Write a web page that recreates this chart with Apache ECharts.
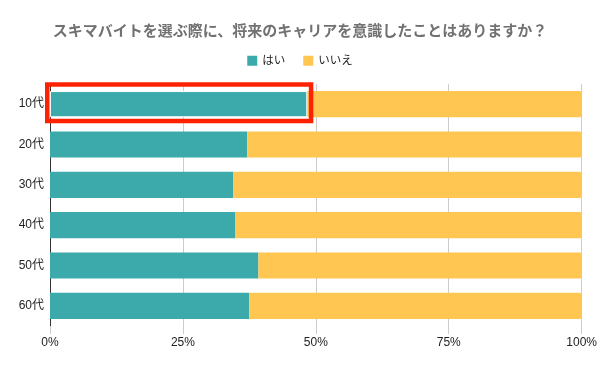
<!DOCTYPE html>
<html>
<head>
<meta charset="utf-8">
<script src="https://cdn.jsdelivr.net/npm/echarts@6/dist/echarts.min.js"></script>
<style>
html,body{margin:0;padding:0;background:#fff;}
#c{width:600px;height:371px;}
</style>
</head>
<body>
<div id="c"></div>
<script>
var titleText = 'スキマバイトを選ぶ際に、将来のキャリアを意識したことはありますか？';
var categories = ['10代', '20代', '30代', '40代', '50代', '60代'];
var seriesNames = ['はい', 'いいえ'];
var yesValues = [48.4, 37.1, 34.5, 34.8, 39.2, 37.5];
var noValues = [51.6, 62.9, 65.5, 65.2, 60.8, 62.5];
var xTicks = [0, 25, 50, 75, 100];
var highlightIndex = 0;

var FONT = '"Liberation Sans", "Noto Sans CJK JP", sans-serif';
var chart = echarts.init(document.getElementById('c'), null, {renderer: 'canvas'});

var yesData = yesValues.map(function (v, i) {
  if (i === highlightIndex) {
    return {value: v, itemStyle: {borderColor: '#ffffff', borderWidth: 1}};
  }
  return v;
});

chart.setOption({
  animation: false,
  backgroundColor: '#ffffff',
  title: {
    text: titleText,
    left: 'center',
    top: 18,
    textStyle: {
      fontFamily: '"Noto Sans CJK JP", sans-serif',
      fontSize: 15,
      fontWeight: 'bold',
      color: '#717171'
    }
  },
  legend: {
    data: seriesNames,
    top: 50,
    left: 'center',
    itemWidth: 10,
    itemHeight: 10,
    itemGap: 18,
    icon: 'rect',
    textStyle: {fontFamily: FONT, fontSize: 11.5, color: '#222'}
  },
  grid: {left: 50, right: 18, top: 84, bottom: 45, containLabel: false},
  xAxis: {
    type: 'value',
    min: xTicks[0],
    max: xTicks[xTicks.length - 1],
    interval: xTicks[1] - xTicks[0],
    axisLine: {show: false},
    axisTick: {show: true, length: 8, lineStyle: {color: '#cccccc'}},
    splitLine: {show: true, lineStyle: {color: '#cccccc', width: 1}},
    axisLabel: {
      formatter: '{value}%',
      fontFamily: FONT,
      fontSize: 12,
      color: '#222',
      margin: 11
    }
  },
  yAxis: {
    type: 'category',
    data: categories,
    inverse: true,
    axisLine: {show: true, lineStyle: {color: '#333333', width: 1}},
    axisTick: {show: false},
    axisLabel: {fontFamily: FONT, fontSize: 12, color: '#222', margin: 6}
  },
  series: [
    {
      name: seriesNames[0],
      type: 'bar',
      stack: 'total',
      barWidth: '65%',
      itemStyle: {color: '#3caaab'},
      data: yesData
    },
    {
      name: seriesNames[1],
      type: 'bar',
      stack: 'total',
      barWidth: '65%',
      itemStyle: {color: '#ffc651', borderRadius: [0, 2, 2, 0]},
      data: noValues
    }
  ]
});

// red highlight frame around the first row's "はい" bar, positioned from the axes
var x0 = chart.convertToPixel({xAxisIndex: 0}, 0);
var x1 = chart.convertToPixel({xAxisIndex: 0}, yesValues[highlightIndex]);
var yc = chart.convertToPixel({yAxisIndex: 0}, categories[highlightIndex]);
chart.setOption({
  graphic: [{
    type: 'rect',
    z: 100,
    shape: {x: x0 - 2.75, y: yc - 19.75, width: (x1 + 3.75) - (x0 - 2.75), height: 36.5},
    style: {fill: 'none', stroke: '#ff2200', lineWidth: 4.5}
  }]
});
</script>
</body>
</html>
